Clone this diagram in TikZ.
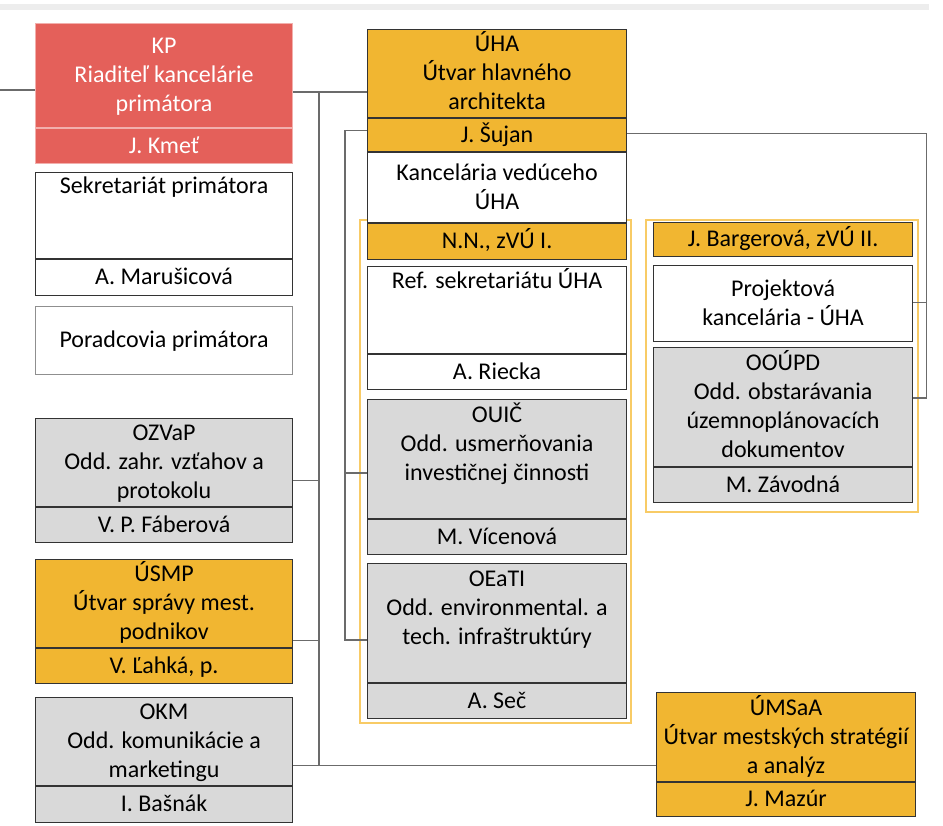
\documentclass[tikz,border=0pt]{standalone}
\usepackage{fontspec}
\setmainfont{Carlito}
\usetikzlibrary{positioning}
\definecolor{kpred}{HTML}{E4605A}
\definecolor{uhaorange}{HTML}{F1B631}
\definecolor{oddgray}{HTML}{D9D9D9}
\definecolor{grpyellow}{HTML}{F8CB66}
\definecolor{boxline}{HTML}{333333}
\definecolor{connline}{HTML}{6B6B6B}
\definecolor{bargray}{HTML}{EDEDED}
\tikzset{
    orgunit/.style = {align=center, inner sep=0pt, text centered, draw=boxline, line width=1.1pt, font=\fontsize{24}{29}\selectfont},
    wide/.style = {minimum width=257pt},
    wider/.style = {minimum width=259pt},
    l1/.style = {text height=15pt, text depth=1pt},
    l2/.style = {text height=44pt, text depth=1pt},
    l3/.style = {text height=73pt, text depth=1pt},
    l4/.style = {text height=102pt, text depth=1pt},
    red_unit/.style = {orgunit, fill=kpred, draw=kpred!50!white, text=white},
    orange_unit/.style = {orgunit, fill=uhaorange},
    gray_unit/.style = {orgunit, fill=oddgray},
    white_unit/.style = {orgunit, fill=white},
    ttlbox/.style = {anchor=north west},
    persbox/.style = {anchor=north, l1},
    conn/.style = {draw=connline, line width=1.2pt},
    grp/.style = {draw=grpyellow, line width=1.3pt}
}

\begin{document}
\begin{tikzpicture}[x=1pt, y=-1pt]
    \useasboundingbox (0,0) rectangle (943,826);
    \fill[bargray] (0,4) rectangle (929,10);

    % skupiny zastupcov
    \draw[grp] (360,220) rectangle (631,723);
    \draw[grp] (646,220) rectangle (918,512);

    % kancelaria primatora
    \node[red_unit, wide, ttlbox, l3, minimum height=104pt] (kp) at (35,23) {KP\\Riaditeľ kancelárie\\primátora};
    \node[red_unit, wide, persbox, minimum height=35pt] (kpnm) at (kp.south) {J. Kmeť};
    \node[white_unit, wide, ttlbox, l3, minimum height=86pt] (sek) at (35,172) {Sekretariát primátora\\~\\~};
    \node[white_unit, wide, persbox, minimum height=36pt] (seknm) at (sek.south) {A. Marušicová};
    \node[white_unit, wide, ttlbox, l1, minimum height=68pt, draw=boxline!55] (por) at (35,306) {Poradcovia primátora};
    \node[gray_unit, wide, ttlbox, l3, minimum height=88pt] (ozvap) at (35,418) {OZVaP\\Odd. zahr. vzťahov a\\protokolu};
    \node[gray_unit, wide, persbox, minimum height=35pt] (ozvapnm) at (ozvap.south) {V. P. Fáberová};
    \node[orange_unit, wide, ttlbox, l3, minimum height=88pt] (usmp) at (35,559) {ÚSMP\\Útvar správy mest.\\podnikov};
    \node[orange_unit, wide, persbox, minimum height=35pt] (usmpnm) at (usmp.south) {V. Ľahká, p.};
    \node[gray_unit, wide, ttlbox, l3, minimum height=88pt] (okm) at (35,697) {OKM\\Odd. komunikácie a\\marketingu};
    \node[gray_unit, wide, persbox, minimum height=36pt] (okmnm) at (okm.south) {I. Bašnák};

    % utvar hlavneho architekta
    \node[orange_unit, wider, ttlbox, l3, minimum height=88pt] (uha) at (367,29) {ÚHA\\Útvar hlavného\\architekta};
    \node[orange_unit, wider, persbox, minimum height=33pt] (uhanm) at (uha.south) {J. Šujan};
    \node[white_unit, wider, persbox, l2, minimum height=70pt] (kvu) at (uhanm.south) {Kancelária vedúceho\\ÚHA};
    \node[orange_unit, wider, persbox, minimum height=36pt] (zvu1) at (kvu.south) {N.N., zVÚ I.};
    \node[white_unit, wider, ttlbox, l3, minimum height=87pt] (ref) at (367,266) {Ref. sekretariátu ÚHA\\~\\~};
    \node[white_unit, wider, persbox, minimum height=35pt] (refnm) at (ref.south) {A. Riecka};
    \node[gray_unit, wider, ttlbox, l4, minimum height=119pt] (ouic) at (367,399) {OUIČ\\Odd. usmerňovania\\investičnej činnosti\\~};
    \node[gray_unit, wider, persbox, minimum height=35pt] (ouicnm) at (ouic.south) {M. Vícenová};
    \node[gray_unit, wider, ttlbox, l4, minimum height=119pt] (oeati) at (367,563) {OEaTI\\Odd. environmental. a\\tech. infraštruktúry\\~};
    \node[gray_unit, wider, persbox, minimum height=35pt] (oeatinm) at (oeati.south) {A. Seč};

    \node[orange_unit, wider, ttlbox, l1, minimum height=34pt] (zvu2) at (653,222) {J. Bargerová, zVÚ II.};
    \node[white_unit, wider, ttlbox, l2, minimum height=76pt] (proj) at (653,265) {Projektová\\kancelária - ÚHA};
    \node[gray_unit, wider, ttlbox, l4, minimum height=119pt] (ooupd) at (653,347) {OOÚPD\\Odd. obstarávania\\územnoplánovacích\\dokumentov};
    \node[gray_unit, wider, persbox, minimum height=35pt] (ooupdnm) at (ooupd.south) {M. Závodná};

    \node[orange_unit, wider, ttlbox, l3, minimum height=89pt] (umsaa) at (656,692) {ÚMSaA\\Útvar mestských stratégií\\a analýz};
    \node[orange_unit, wider, persbox, minimum height=34pt] (umsaanm) at (umsaa.south) {J. Mazúr};

    % prepojenia
    \coordinate (vstup) at (0,90);
    \coordinate (trunk) at (319,92);
    \draw[conn] (vstup) -- (vstup -| kp.west);
    \draw[conn] (kp.east |- trunk) -- (uha.west |- trunk);
    \draw[conn] ([yshift=-24pt]okm.east) coordinate (c3) -- (c3 -| umsaa.west);
    \draw[conn] (trunk) -- (trunk |- c3);
    \draw[conn] ([yshift=-18pt]ozvap.east) coordinate (c1) -- (c1 -| trunk);
    \draw[conn] ([yshift=-37pt]usmp.east) coordinate (c2) -- (c2 -| trunk);

    \draw[conn] ([yshift=5pt]uhanm.west) -| ([xshift=-22pt,yshift=-17pt]oeati.west) -- ([yshift=-17pt]oeati.west);
    \draw[conn] ([xshift=-22pt,yshift=-14pt]ouic.west) -- ([yshift=-14pt]ouic.west);

    \draw[conn] ([yshift=2pt]uhanm.east) -| ([xshift=13pt,yshift=9pt]ooupd.east) -- ([yshift=9pt]ooupd.east);
    \draw[conn] ([xshift=13pt,yshift=1pt]proj.east) -- ([yshift=1pt]proj.east);
\end{tikzpicture}
\end{document}
